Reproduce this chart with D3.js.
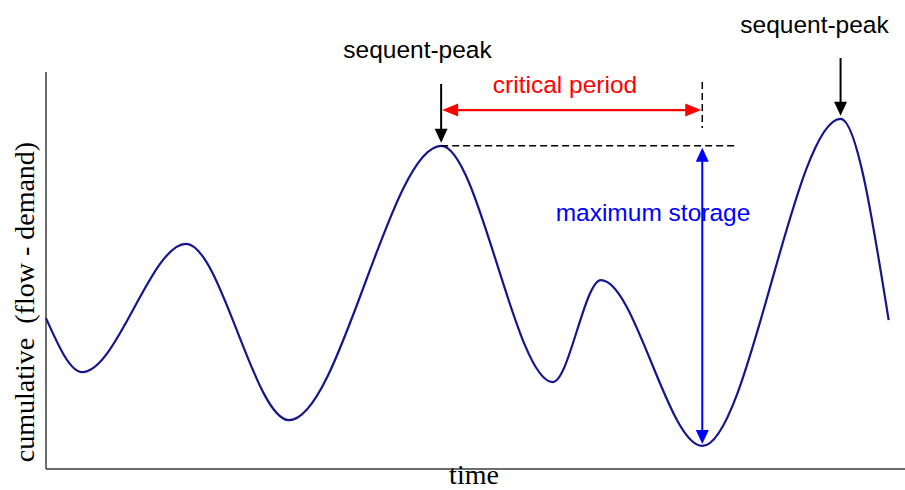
<!DOCTYPE html>
<html>
<head>
<meta charset="utf-8">
<script src="https://cdn.jsdelivr.net/npm/d3@7/dist/d3.min.js"></script>
<style>
  html, body { margin: 0; padding: 0; background: #fff; }
  svg { display: block; }
  .sans { font-family: "Liberation Sans", Arial, sans-serif; font-size: 24.5px; }
  .serif { font-family: "Liberation Serif", "Times New Roman", serif; font-size: 28px; }
</style>
</head>
<body>
<div id="chart"></div>
<script>
// Sequent-peak (mass curve) sketch: cumulative flow minus demand over time.
// Values are in arbitrary units (0-100 on both axes).

const times  = [0, 4.2, 16.3, 28.3, 46.0, 59.0, 64.6, 76.4, 92.5, 98.1];
const values = [38.0, 24.4, 56.7, 12.3, 81.4, 21.9, 47.6, 5.8, 88.2, 37.5];

// annotation anchors, in the same data units
const peakIdx = [4, 8];        // the two sequent peaks
const troughIdx = 7;           // lowest point after the first peak
const periodLevel = 90.4;      // where the critical-period arrow sits
const dashTop = 97.5;          // top of the dashed marker above the trough
const dashBottom = 85.9;
const dashEnd = 80.2;          // right end of the horizontal dashed line

const labels = {
  peak: "sequent-peak",
  period: "critical period",
  storage: "maximum storage",
  x: "time",
  y: "cumulative  (flow - demand)"
};

const width = 905, height = 490;
const x = d3.scaleLinear().domain([0, 100]).range([46, 905]);
const y = d3.scaleLinear().domain([0, 100]).range([469, 72]);

const svg = d3.select("#chart").append("svg")
  .attr("width", width).attr("height", height).attr("viewBox", `0 0 ${width} ${height}`);

// axes: plain lines, no ticks
svg.append("line").attr("x1", x(0)).attr("x2", x(0)).attr("y1", y(100)).attr("y2", y(0))
  .attr("stroke", "#3c3c3c").attr("stroke-width", 1.5);
svg.append("line").attr("x1", x(0)).attr("x2", x(100)).attr("y1", y(0)).attr("y2", y(0))
  .attr("stroke", "#3c3c3c").attr("stroke-width", 1.5);

const pts = times.map((t, i) => ({ t, v: values[i] }));
svg.append("path").datum(pts)
  .attr("fill", "none").attr("stroke", "#15158c").attr("stroke-width", 2.2)
  .attr("d", d3.line().x((p) => x(p.t)).y((p) => y(p.v)).curve(d3.curveMonotoneX));

// triangle arrowhead with its tip at (tx, ty), pointing in direction dir
function head(tx, ty, dir, color, len, half) {
  const a = { down: [0, 1], up: [0, -1], left: [-1, 0], right: [1, 0] }[dir];
  const bx = tx - a[0] * len, by = ty - a[1] * len;
  const nx = -a[1] * half, ny = a[0] * half;
  svg.append("path")
    .attr("d", `M${tx},${ty}L${bx + nx},${by + ny}L${bx - nx},${by - ny}Z`)
    .attr("fill", color);
}

// sequent-peak arrows
const peak1 = pts[peakIdx[0]], peak2 = pts[peakIdx[1]];
[[peak1, 84, 417.5, 58], [peak2, 58, 814.5, 33]].forEach(([p, top, tx, ty]) => {
  const px = x(p.t), py = y(p.v) - 3;
  svg.append("line").attr("x1", px).attr("x2", px).attr("y1", top).attr("y2", py - 12)
    .attr("stroke", "#000").attr("stroke-width", 2);
  head(px, py, "down", "#000", 14, 6.5);
  svg.append("text").attr("class", "sans").attr("x", tx).attr("y", ty)
    .attr("text-anchor", "middle").attr("fill", "#000").text(labels.peak);
});

// dashed guides
const trough = pts[troughIdx];
svg.append("line").attr("x1", x(peak1.t)).attr("x2", x(dashEnd)).attr("y1", y(peak1.v)).attr("y2", y(peak1.v))
  .attr("stroke", "#000").attr("stroke-width", 1.5).attr("stroke-dasharray", "7,4");
svg.append("line").attr("x1", x(trough.t)).attr("x2", x(trough.t)).attr("y1", y(dashTop)).attr("y2", y(dashBottom))
  .attr("stroke", "#000").attr("stroke-width", 1.5).attr("stroke-dasharray", "7,4");

// critical period (red, double-headed)
const cy = y(periodLevel);
svg.append("line").attr("x1", x(peak1.t) + 14).attr("x2", x(trough.t) - 14).attr("y1", cy).attr("y2", cy)
  .attr("stroke", "#ff0000").attr("stroke-width", 2.2);
head(x(peak1.t) + 1, cy, "left", "#ff0000", 16, 6.5);
head(x(trough.t) - 1, cy, "right", "#ff0000", 16, 6.5);
svg.append("text").attr("class", "sans").attr("x", 565).attr("y", 93)
  .attr("text-anchor", "middle").attr("fill", "#ff0000").text(labels.period);

// maximum storage (blue, double-headed)
const sx = x(trough.t), sTop = y(peak1.v) + 2, sBot = y(trough.v) - 2;
svg.append("line").attr("x1", sx).attr("x2", sx).attr("y1", sTop + 12).attr("y2", sBot - 12)
  .attr("stroke", "#0000ff").attr("stroke-width", 2);
head(sx, sTop, "up", "#0000ff", 14, 6.5);
head(sx, sBot, "down", "#0000ff", 14, 6.5);
svg.append("text").attr("class", "sans").attr("x", 653).attr("y", 221)
  .attr("text-anchor", "middle").attr("fill", "#0000ff").text(labels.storage);

// axis titles
svg.append("text").attr("class", "serif").attr("x", 474).attr("y", 484)
  .attr("text-anchor", "middle").attr("fill", "#000").text(labels.x);
svg.append("text").attr("class", "serif").attr("transform", "translate(34,302) rotate(-90)")
  .attr("text-anchor", "middle").attr("fill", "#000").style("white-space", "pre").text(labels.y);
</script>
</body>
</html>
